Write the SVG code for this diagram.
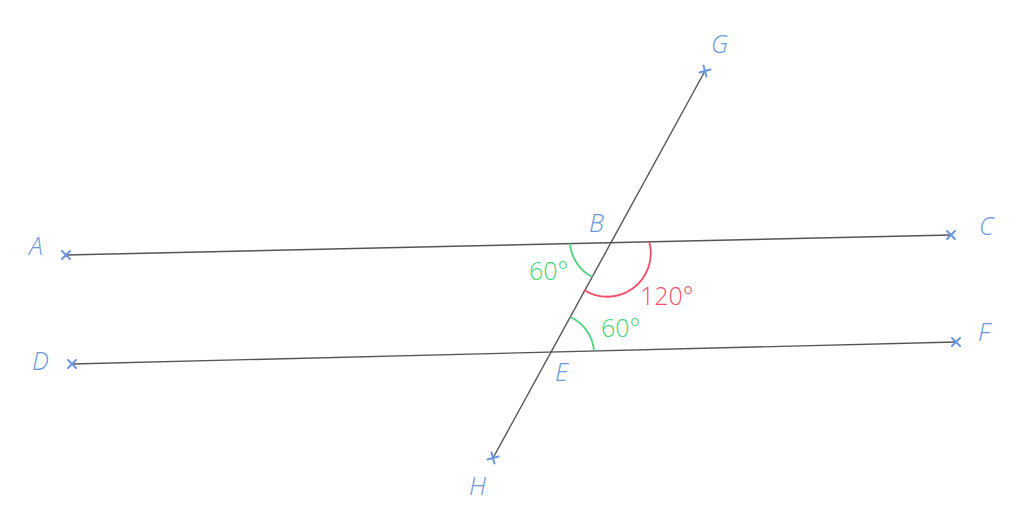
<svg xmlns="http://www.w3.org/2000/svg" width="1029" height="514" viewBox="0 0 1029 514">
<style>
.ln{stroke:#555;stroke-width:1.4;fill:none}
.cr{stroke:#6b96e0;stroke-width:2;fill:none;stroke-linecap:round}
.lb{font-family:"Open Sans","Noto Sans",sans-serif;font-weight:300;font-size:25px;fill:#6b96e0;font-style:italic}
.g{stroke:#49d37a;stroke-width:1.8;fill:none}
.r{stroke:#f4506a;stroke-width:1.8;fill:none}
.gt{font-family:"Open Sans","Noto Sans",sans-serif;font-weight:300;font-size:25px;fill:#49d37a}
.rt{font-family:"Open Sans","Noto Sans",sans-serif;font-weight:300;font-size:25px;fill:#f4506a}
</style>
<rect width="1029" height="514" fill="#fff"/>
<g id="connectors">
<line class="ln" x1="66" y1="255" x2="951" y2="235"/>
<line class="ln" x1="72" y1="364" x2="956" y2="342"/>
<line class="ln" x1="705" y1="71" x2="493" y2="458"/>
</g>
<g id="angles">
<path class="g" d="M570,243.5 A41,41 0 0 0 592.5,277"/>
<path class="r" d="M649.3,242 A43.5,43.5 0 0 1 584,290"/>
<path class="g" d="M570.5,317 A41,41 0 0 1 594,351"/>
<text class="gt" x="529" y="280">60°</text>
<text class="rt" x="640" y="305">120°</text>
<text class="gt" x="601" y="336.5">60°</text>
</g>
<g id="A"><path class="cr" d="M62,251 L70,259 M62,259 L70,251"/><text class="lb" x="29" y="255">A</text></g>
<g id="C"><path class="cr" d="M947,231 L955,239 M947,239 L955,231"/><text class="lb" x="979" y="235">C</text></g>
<g id="D"><path class="cr" d="M68,360 L76,368 M68,368 L76,360"/><text class="lb" x="32" y="370">D</text></g>
<g id="F"><path class="cr" d="M952,338 L960,346 M952,346 L960,338"/><text class="lb" x="978" y="341">F</text></g>
<g id="G"><path class="cr" d="M703.5,65.5 L706.5,76.5 M699.5,72.5 L710.5,69.5"/><text class="lb" x="711" y="53">G</text></g>
<g id="H"><path class="cr" d="M491.5,452.5 L494.5,463.5 M487.5,459.5 L498.5,456.5"/><text class="lb" x="469" y="495">H</text></g>
<g id="B"><text class="lb" x="589" y="232">B</text></g>
<g id="E"><text class="lb" x="555" y="381">E</text></g>
</svg>
